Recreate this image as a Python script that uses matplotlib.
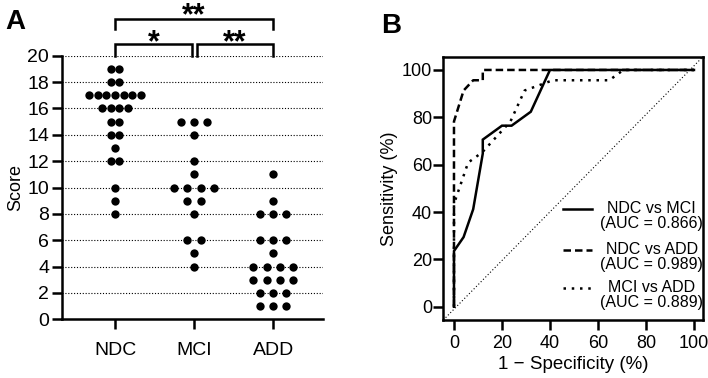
import matplotlib
matplotlib.use("Agg")
import matplotlib.pyplot as plt
import numpy as np

plt.rcParams['font.family'] = ['Liberation Sans', 'DejaVu Sans']

# --- data ---
groups = ["NDC", "MCI", "ADD"]
ndc = [19, 19, 18, 18] + [17]*7 + [16]*4 + [15, 15, 14, 14, 13, 12, 12, 10, 9, 8]
mci = [15, 15, 15, 14, 12, 11, 10, 10, 10, 10, 9, 9, 8, 6, 6, 5, 4]
add = [11, 9, 8, 8, 8, 6, 6, 6, 5, 4, 4, 4, 4, 3, 3, 3, 3, 2, 2, 2, 1, 1, 1]
scores = [ndc, mci, add]

# comparisons (high-score group, low-score group), label, AUC text, style
pairs = [(0, 1), (0, 2), (1, 2)]
pair_names = ["NDC vs MCI", "NDC vs ADD", "MCI vs ADD"]
auc_text = ["0.866", "0.989", "0.889"]
styles = ["-", (0, (3, 1.6)), (0, (1, 2.3))]

# significance brackets: (from, to, stars, level)
brackets = [(0, 1, "*", 0), (1, 2, "**", 0), (0, 2, "**", 1)]

LW = 1.8


def roc(pos, neg):
    pos = np.asarray(pos); neg = np.asarray(neg)
    vals = np.unique(np.concatenate([pos, neg]))
    cuts = np.concatenate([[vals[0] - 0.5], vals + 0.5])
    sens = np.array([(pos < c).mean() * 100 for c in cuts])
    fpr = np.array([(neg < c).mean() * 100 for c in cuts])
    return fpr, sens


fig = plt.figure(figsize=(7.08, 3.78), dpi=100)

# ---------------- panel A ----------------
ax = fig.add_axes([0.0871, 0.1553, 0.3695, 0.6973])
for yv in range(2, 21, 2):
    ax.axhline(yv, color="black", lw=0.8, ls=(0, (1, 1.6)), zorder=0)
for i, vals in enumerate(scores):
    vals = np.asarray(vals)
    u, cnt = np.unique(vals, return_counts=True)
    sp = min(0.168, 0.65 / (cnt.max() - 1))
    xs, ys = [], []
    for v, k in zip(u, cnt):
        xs += list(i + (np.arange(k) - (k - 1) / 2) * sp)
        ys += [v] * k
    ax.scatter(xs, ys, s=36, color="black", zorder=3, clip_on=False, linewidths=0)

ax.set_xlim(-0.675, 2.633)
ax.set_ylim(0, 20)
ax.set_yticks(range(0, 21, 2))
ax.set_xticks(range(3))
ax.set_xticklabels(groups, fontsize=14)
ax.tick_params(axis="y", labelsize=14, length=7, width=LW, pad=2)
ax.tick_params(axis="x", length=7, width=LW, pad=9)
for s in ["top", "right"]:
    ax.spines[s].set_visible(False)
for s in ["left", "bottom"]:
    ax.spines[s].set_linewidth(LW)
ax.set_ylabel("Score", fontsize=13)
ax.yaxis.set_label_coords(-0.145, 0.5)

for a, b, stars, lev in brackets:
    if lev == 0:
        x0 = a + (0.03 if a > 0 else 0)
        x1 = b - (0.03 if b < 2 else 0)
        ytop, ybot, ytxt = 20.9, 20.0, 20.33
    else:
        x0, x1 = a, b
        ytop, ybot, ytxt = 22.8, 22.05, 22.37
    ax.plot([x0, x0, x1, x1], [ybot, ytop, ytop, ybot], color="black", lw=LW,
            clip_on=False, solid_joinstyle="miter")
    ax.text((x0 + x1) / 2, ytxt, stars, ha="center", va="baseline",
            fontsize=22, fontweight="bold", zorder=4)

fig.text(0.008, 0.975, "A", fontsize=20, fontweight="bold", ha="left", va="top")

# ---------------- panel B ----------------
bx = fig.add_axes([0.6261, 0.1534, 0.3668, 0.6966])
bx.plot([0, 1], [0, 1], transform=bx.transAxes, color="black", lw=0.8,
        ls=(0, (1, 2)), zorder=1)
for (p, q), st in zip(pairs, styles):
    fpr, sens = roc(scores[q], scores[p])
    bx.plot(fpr, sens, color="black", lw=LW, ls=st, zorder=2,
            solid_joinstyle="miter")

bx.set_xlim(-4.46, 103.75)
bx.set_ylim(-5.6, 105.6)
bx.set_xticks(range(0, 101, 20))
bx.set_yticks(range(0, 101, 20))
bx.tick_params(labelsize=13, length=7, width=LW)
bx.tick_params(axis="y", pad=1)
bx.tick_params(axis="x", pad=4)
for s in bx.spines.values():
    s.set_linewidth(LW)
bx.set_xlabel("1 \u2212 Specificity (%)", fontsize=13.5)
bx.set_ylabel("Sensitivity (%)", fontsize=13)
bx.xaxis.set_label_coords(0.5, -0.137)
bx.yaxis.set_label_coords(-0.176, 0.5)

# legend drawn by hand so handles sit on the first text line
hy = [0.422, 0.266, 0.122]
for k, (name, auc, st) in enumerate(zip(pair_names, auc_text, styles)):
    bx.plot([0.461, 0.572], [hy[k], hy[k]], transform=bx.transAxes,
            color="black", lw=LW, ls=st)
    bx.text(0.803, hy[k], name, transform=bx.transAxes, ha="center",
            va="center", fontsize=11.5)
    bx.text(0.803, hy[k] - 0.057, "(AUC = " + auc + ")", transform=bx.transAxes,
            ha="center", va="center", fontsize=11.5)

fig.text(0.538, 0.966, "B", fontsize=20, fontweight="bold", ha="left", va="top")

fig.savefig("out.png", dpi=100, facecolor="white")
